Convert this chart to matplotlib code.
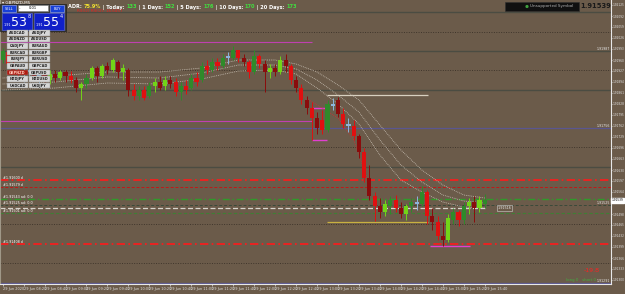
import matplotlib
matplotlib.use("Agg")
import matplotlib.pyplot as plt
from matplotlib.patches import Rectangle

# GBPNZD M5 candles (price)
opens = [1.91960, 1.91984, 1.91948, 1.91930, 1.91918, 1.91924, 1.91930, 1.91912, 1.91918, 1.91900,
         1.91918, 1.91906, 1.91924, 1.91912, 1.91900, 1.91876, 1.91888, 1.91906, 1.91936, 1.91912,
         1.91942, 1.91930, 1.91954, 1.91924, 1.91930, 1.91870, 1.91852, 1.91870, 1.91852, 1.91882,
         1.91894, 1.91882, 1.91900, 1.91894, 1.91864, 1.91882, 1.91876, 1.91906, 1.91900, 1.91942,
         1.91930, 1.91954, 1.91942, 1.91966, 1.91966, 1.91990, 1.91966, 1.91954, 1.91924, 1.91972,
         1.91948, 1.91924, 1.91936, 1.91924, 1.91960, 1.91942, 1.91900, 1.91876, 1.91840, 1.91816,
         1.91786, 1.91780, 1.91750, 1.91828, 1.91840, 1.91798, 1.91768, 1.91762, 1.91732, 1.91684,
         1.91606, 1.91552, 1.91522, 1.91504, 1.91522, 1.91540, 1.91516, 1.91498, 1.91522, 1.91534,
         1.91528, 1.91564, 1.91492, 1.91474, 1.91432, 1.91420, 1.91480, 1.91504, 1.91480, 1.91522,
         1.91534, 1.91516, 1.91528]
highs = [1.91996, 1.91990, 1.91960, 1.91942, 1.91936, 1.91942, 1.91942, 1.91930, 1.91930, 1.91930,
         1.91930, 1.91930, 1.91930, 1.91927, 1.91909, 1.91894, 1.91918, 1.91942, 1.91942, 1.91948,
         1.91954, 1.91966, 1.91960, 1.91948, 1.91936, 1.91888, 1.91882, 1.91882, 1.91894, 1.91906,
         1.91912, 1.91912, 1.91912, 1.91906, 1.91894, 1.91900, 1.91918, 1.91924, 1.91954, 1.91960,
         1.91966, 1.91966, 1.91978, 1.91984, 1.92002, 1.91990, 1.91978, 1.91960, 1.91990, 1.91978,
         1.91960, 1.91948, 1.91948, 1.91972, 1.91978, 1.91948, 1.91912, 1.91888, 1.91852, 1.91834,
         1.91804, 1.91810, 1.91840, 1.91846, 1.91849, 1.91816, 1.91786, 1.91780, 1.91738, 1.91696,
         1.91645, 1.91564, 1.91546, 1.91540, 1.91552, 1.91555, 1.91534, 1.91528, 1.91546, 1.91552,
         1.91582, 1.91570, 1.91516, 1.91492, 1.91474, 1.91498, 1.91516, 1.91510, 1.91534, 1.91546,
         1.91552, 1.91552, 1.91558]
lows = [1.91951, 1.91942, 1.91918, 1.91900, 1.91894, 1.91906, 1.91900, 1.91888, 1.91894, 1.91888,
        1.91894, 1.91900, 1.91894, 1.91891, 1.91864, 1.91840, 1.91876, 1.91900, 1.91894, 1.91906,
        1.91918, 1.91924, 1.91906, 1.91900, 1.91852, 1.91840, 1.91840, 1.91840, 1.91846, 1.91864,
        1.91870, 1.91870, 1.91876, 1.91852, 1.91840, 1.91858, 1.91870, 1.91882, 1.91894, 1.91918,
        1.91924, 1.91930, 1.91936, 1.91948, 1.91960, 1.91954, 1.91942, 1.91906, 1.91918, 1.91936,
        1.91864, 1.91906, 1.91912, 1.91918, 1.91924, 1.91888, 1.91864, 1.91828, 1.91798, 1.91720,
        1.91738, 1.91738, 1.91744, 1.91810, 1.91789, 1.91756, 1.91744, 1.91720, 1.91666, 1.91594,
        1.91540, 1.91477, 1.91486, 1.91492, 1.91498, 1.91504, 1.91486, 1.91480, 1.91504, 1.91510,
        1.91522, 1.91468, 1.91450, 1.91420, 1.91402, 1.91414, 1.91468, 1.91462, 1.91468, 1.91498,
        1.91474, 1.91504, 1.91516]
closes = [1.91987, 1.91948, 1.91930, 1.91918, 1.91924, 1.91930, 1.91912, 1.91918, 1.91906, 1.91918,
          1.91906, 1.91924, 1.91912, 1.91900, 1.91876, 1.91888, 1.91906, 1.91936, 1.91912, 1.91942,
          1.91930, 1.91960, 1.91924, 1.91936, 1.91870, 1.91852, 1.91870, 1.91846, 1.91882, 1.91894,
          1.91876, 1.91900, 1.91888, 1.91864, 1.91882, 1.91870, 1.91906, 1.91894, 1.91942, 1.91930,
          1.91954, 1.91942, 1.91966, 1.91972, 1.91990, 1.91966, 1.91954, 1.91924, 1.91972, 1.91948,
          1.91924, 1.91936, 1.91924, 1.91960, 1.91942, 1.91900, 1.91876, 1.91840, 1.91816, 1.91786,
          1.91756, 1.91750, 1.91828, 1.91822, 1.91798, 1.91768, 1.91762, 1.91732, 1.91684, 1.91606,
          1.91552, 1.91522, 1.91504, 1.91528, 1.91540, 1.91516, 1.91498, 1.91522, 1.91534, 1.91528,
          1.91564, 1.91492, 1.91474, 1.91432, 1.91420, 1.91486, 1.91504, 1.91480, 1.91522, 1.91534,
          1.91516, 1.91540, 1.91539]

# envelope (dotted) read at a few bars
band_idx = [0, 10, 20, 30, 38, 45, 52, 56, 60, 64, 68, 72, 76, 80, 84, 88, 92]
band_up = [1.91906, 1.91912, 1.91924, 1.91924, 1.91936, 1.91960, 1.91960, 1.91948, 1.91924, 1.91885,
           1.91840, 1.91765, 1.91690, 1.91630, 1.91585, 1.91555, 1.91546]
band_mid = [1.91888, 1.91894, 1.91909, 1.91906, 1.91921, 1.91945, 1.91945, 1.91933, 1.91900, 1.91855,
            1.91804, 1.91720, 1.91645, 1.91594, 1.91555, 1.91537, 1.91531]
band_lo = [1.91870, 1.91876, 1.91891, 1.91888, 1.91903, 1.91927, 1.91930, 1.91918, 1.91876, 1.91828,
           1.91768, 1.91675, 1.91600, 1.91564, 1.91534, 1.91519, 1.91516]
fast_idx = [56, 60, 64, 67, 70]
fast_ma = [1.91864, 1.91825, 1.91786, 1.91720, 1.91585]

# horizontal levels
solid_levels = [1.92104, 1.91987, 1.91870, 1.91639]
dotted_levels = [1.92044, 1.91930, 1.91699, 1.91468, 1.91351]
purple_levels = [1.91756, 1.91291]
red_dashdot = [1.91600, 1.91408]
red_dashed = [1.91579]
green_dashdot = [1.91543]
green_dashed = [1.91501]
gray_dashed = [1.91525]
white_dashed = [1.91516]
magenta_long = [1.92014, 1.91777]
magenta_short = [1.91816, 1.91720]
box_top = 1.91855
box_bottom = 1.91474
low_mark = 1.91402

price_ticks = [1.92125, 1.92092, 1.92059, 1.92026, 1.91993, 1.91960, 1.91927, 1.91894, 1.91861,
               1.91828, 1.91795, 1.91762, 1.91729, 1.91696, 1.91663, 1.91630, 1.91597, 1.91564,
               1.91531, 1.91498, 1.91465, 1.91432, 1.91399, 1.91366, 1.91333, 1.91300]
time_labels = ["29 Jun 2020"] + ["29 Jun %02d:%02d" % divmod(8 * 60 + 20 * k, 60) for k in range(1, 24)]

buttons = [["AUDCAD", "AUDJPY"], ["AUDNZD", "AUDUSD"], ["CADJPY", "EURAUD"], ["EURCAD", "EURGBP"],
           ["EURJPY", "EURUSD"], ["GBPAUD", "GBPCAD"], ["GBPNZD", "GBPUSD"], ["NZDJPY", "NZDUSD"],
           ["USDCAD", "USDJPY"]]
adr_parts = [("ADR: ", "white"), ("75.9%", "#f0e030"), (" | Today: ", "white"), ("133", "#40e040"),
             (" | 1 Days: ", "white"), ("152", "#40e040"), (" | 5 Days: ", "white"), ("176", "#40e040"),
             (" | 10 Days: ", "white"), ("170", "#40e040"), (" | 20 Days: ", "white"), ("173", "#40e040")]

BG = "#6b5b4a"
W, H = 625, 294
fig = plt.figure(figsize=(W / 100, H / 100), dpi=100, facecolor=BG)
ax = fig.add_axes([0, 10 / H, 611 / W, 284 / H], facecolor=BG)
ax.set_xlim(-0.5, 116.1)
ax.set_ylim(1.91288, 1.92140)

n = len(opens)
idx = list(range(n))

# levels
for v in solid_levels:
    ax.axhline(v, color="#4b4c42", lw=1.0, zorder=1)
for v in dotted_levels:
    ax.axhline(v, color="#3f352b", lw=0.7, ls=(0, (1, 1.5)), zorder=1)
for v in purple_levels:
    ax.axhline(v, color="#5a5690", lw=0.9, zorder=1)
for v in red_dashdot:
    ax.axhline(v, color="#ff1a1a", lw=1.2, ls=(0, (5, 2, 1, 2)), zorder=2)
for v in red_dashed:
    ax.axhline(v, color="#c01818", lw=0.7, ls=(0, (3, 2)), zorder=2)
for v in green_dashdot:
    ax.axhline(v, color="#2f9a2a", lw=1.0, ls=(0, (5, 2, 1, 2)), zorder=2)
for v in green_dashed:
    ax.axhline(v, color="#3f7f35", lw=0.8, ls=(0, (3, 2)), zorder=2)
for v in gray_dashed:
    ax.axhline(v, color="#3a4a3a", lw=0.7, ls=(0, (3, 2)), zorder=2)
for v in white_dashed:
    ax.hlines(v, -0.5, 92.4, color="#d8d4cc", lw=0.9, ls=(0, (4, 2)), zorder=2)
for v in magenta_long:
    ax.hlines(v, -0.5, 59.0, color="#c040b0", lw=0.8, zorder=2)
for v in magenta_short:
    ax.hlines(v, 59.0, 61.9, color="#e040d0", lw=1.0, zorder=2)
ax.hlines(low_mark, 81.6, 89.2, color="#e040d0", lw=1.0, zorder=2)
ax.hlines(box_top, 61.9, 81.2, color="#d8d0c0", lw=0.9, zorder=2)
ax.hlines(box_bottom, 61.9, 81.2, color="#c8b040", lw=0.9, zorder=2)

# envelope
for band in (band_up, band_mid, band_lo):
    ax.plot(band_idx, band, color="#c8c0b4", lw=0.6, ls=(0, (1, 1.2)), zorder=3)
ax.plot(fast_idx, fast_ma, color="#d03030", lw=0.6, ls=(0, (1, 1.2)), zorder=3)

# candles
for i in idx:
    o, h, l, c = opens[i], highs[i], lows[i], closes[i]
    body = abs(c - o)
    if body < 0.00010:
        col = "#8cb4dc"
    elif c > o:
        col = "#72d418" if i % 2 else "#2f8a2a"
    else:
        col = "#e01010" if i % 2 else "#8a0c0c"
    ax.vlines(i, l, h, color=col, lw=0.7, zorder=4)
    ax.bar(i, max(body, 0.00003), bottom=min(o, c), width=0.78, color=col, lw=0, zorder=5)

ax.set_yticks(price_ticks)
ax.set_yticklabels(["%.5f" % v for v in price_ticks])
ax.yaxis.tick_right()
ax.set_xticks(range(0, n, 4))
ax.set_xticklabels(time_labels)
ax.tick_params(axis="y", colors="#e0e0e0", labelsize=2.1, length=1.0, width=0.5, pad=0.2)
ax.tick_params(axis="x", colors="#e0e0e0", labelsize=2.5, length=1.5, width=0.5, pad=0.6)
for lab in ax.get_xticklabels():
    lab.set_horizontalalignment("left")
ax.spines["top"].set_visible(False)
ax.spines["left"].set_color("#a09888")
ax.spines["left"].set_linewidth(0.8)
ax.spines["right"].set_color("#e8e8e8")
ax.spines["bottom"].set_color("#e8e8e8")
ax.spines["right"].set_linewidth(0.8)
ax.spines["bottom"].set_linewidth(0.8)

# line labels on the chart
for v in (1.91987, 1.91756, 1.91525, 1.91291):
    ax.text(113.3, v, "%.5f" % v, color="#e8e8e8", fontsize=2.3, va="bottom", ha="left", zorder=6)
ax.text(116.2, closes[-1], "%.5f" % closes[-1], fontsize=2.1, color="black", va="center", ha="left",
        bbox=dict(boxstyle="square,pad=0.1", fc="white", ec="white"), clip_on=False, zorder=7)
ax.text(94.5, white_dashed[0], "%.5f" % white_dashed[0], fontsize=2.4, color="#e8e8e8", va="center",
        bbox=dict(boxstyle="square,pad=0.2", fc="#6b5b4a", ec="#d0d0d0", lw=0.4), zorder=7)
left_tags = [(1.91600, "#1.91600 d"), (1.91579, "#1.91579 d"), (1.91543, "#1.91543 ad: 0.0"),
             (1.91525, "#1.91525 ad: 0.0"), (1.91501, "#1.91501 ad: 0.0"), (1.91408, "#1.91408 d")]
for v, t in left_tags:
    ax.text(0.0, v, t, fontsize=2.4, color="white", va="bottom", ha="left", zorder=6)

# overlay in pixel coords
ov = fig.add_axes([0, 0, 1, 1], facecolor="none")
ov.set_xlim(0, W)
ov.set_ylim(H, 0)
ov.axis("off")

ov.text(2, 2.5, "\u25be GBPNZD,M5", fontsize=3, color="white", va="center")
ov.add_patch(Rectangle((0, 4), 66, 27, fc="#3c3c3c", ec="#202020", lw=0.5))
ov.add_patch(Rectangle((2, 5), 14, 7, fc="#1840d8", ec="#a0b0ff", lw=0.4))
ov.text(9, 8.5, "SELL", fontsize=2.6, color="white", ha="center", va="center")
ov.add_patch(Rectangle((18, 5), 30, 6, fc="white", ec="#808080", lw=0.4))
ov.text(33, 8, "0.01", fontsize=2.6, color="black", ha="center", va="center")
ov.text(20, 8, "-", fontsize=3, color="black", ha="center", va="center")
ov.add_patch(Rectangle((50, 5), 14, 7, fc="#1840d8", ec="#a0b0ff", lw=0.4))
ov.text(57, 8.5, "BUY", fontsize=2.6, color="white", ha="center", va="center")
for bx, big, small in ((2, "53", "8"), (34, "55", "4")):
    ov.add_patch(Rectangle((bx, 13), 30, 17, fc="#1020c8", ec="#6070e0", lw=0.4))
    ov.text(bx + 1.5, 25, "1.91", fontsize=2.4, color="white", va="center")
    ov.text(bx + 25, 22, big, fontsize=9, color="white", va="center", ha="right")
    ov.text(bx + 25.5, 17, small, fontsize=3.5, color="white", va="center")

for r, row in enumerate(buttons):
    for cidx, name in enumerate(row):
        bx = 7 + cidx * 22
        by = 30 + r * 6.6
        hot = name == "GBPNZD"
        ov.add_patch(Rectangle((bx, by), 21, 5.6, fc="#b01a10" if hot else "#d6d6d6",
                               ec="#909090", lw=0.3))
        ov.text(bx + 10.5, by + 2.9, name, fontsize=2.5, color="#ffd0c0" if hot else "#202020",
                ha="center", va="center", fontweight="bold")

# ADR line: chain the pieces by their rendered widths
renderer = fig.canvas.get_renderer()
xpos = 68
for txt, col in adr_parts:
    t = ov.text(xpos, 7, txt, fontsize=3.6, color=col, va="center", fontweight="bold")
    bb = t.get_window_extent(renderer=renderer)
    xpos += bb.width
ov.text(77, 11.5, "RSI(2) RSI(2): 18.6457", fontsize=3, color="#e02020", va="center")

ov.add_patch(Rectangle((505, 2), 74, 9, fc="#101010", ec="#303030", lw=0.4))
ov.add_patch(plt.Circle((527, 6.5), 1.6, fc="#40a040"))
ov.text(530, 6.5, "Unsupported Symbol", fontsize=3, color="#b0b0b0", va="center")
ov.text(580.5, 6.5, "1.91539", fontsize=4.9, color="#1a1a1a", va="center", fontweight="bold")

ov.text(584, 271, "-19.8", fontsize=4.5, color="#ff2020", va="center")
ov.text(566, 279.5, "long 0   short 0", fontsize=2.8, color="#40b040", va="center")

fig.savefig("out.png", dpi=100, facecolor=BG)
